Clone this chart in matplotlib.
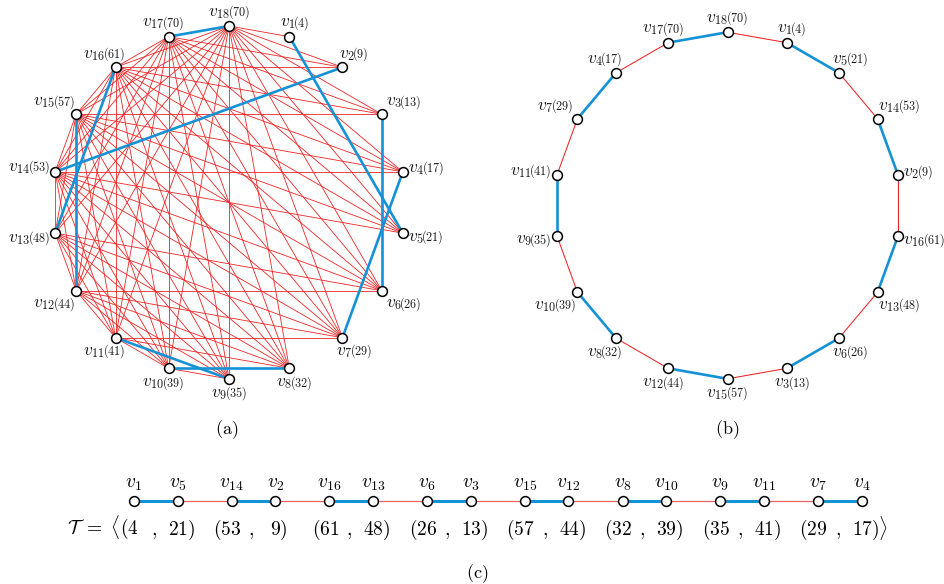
import numpy as np
import matplotlib
matplotlib.use("Agg")
import matplotlib.pyplot as plt
from matplotlib.collections import LineCollection
from matplotlib.offsetbox import TextArea, HPacker, AnnotationBbox

plt.rcParams["mathtext.fontset"] = "cm"
plt.rcParams["font.family"] = ["DejaVu Serif"]

# ---- graph data -------------------------------------------------------
weights = [4, 9, 13, 17, 21, 26, 29, 32, 35, 39, 41, 44, 48, 53, 57, 61, 70, 70]
# lowest-numbered neighbour of v1..v9 (they see every vertex from there up to v18)
first_neighbour = [18, 16, 15, 14, 14, 12, 11, 10, 10]
matching = [(1, 5), (14, 2), (16, 13), (6, 3), (15, 12), (8, 10), (9, 11), (7, 4), (17, 18)]
cycle = [18, 1, 5, 14, 2, 16, 13, 6, 3, 15, 12, 8, 10, 9, 11, 7, 4, 17]
path_pairs = [(1, 5), (14, 2), (16, 13), (6, 3), (15, 12), (8, 10), (9, 11), (7, 4)]
panel_titles = ["(a)", "(b)", "(c)"]

RED = "#ee2424"
RED_LIGHT = "#ef6262"
BLUE = "#1492d5"

W, H = 944, 584
fig = plt.figure(figsize=(W / 100, H / 100), dpi=100)
ax = fig.add_axes([0, 0, 1, 1])
ax.set_xlim(0, W)
ax.set_ylim(H, 0)
ax.axis("off")

n = len(weights)
labels = []


def polygon_positions(order, cx, cy, r):
    pos, ang = {}, {}
    for p, k in enumerate(order):
        th = 90 - 360.0 / len(order) * p
        t = np.deg2rad(th)
        pos[k] = (cx + r * np.cos(t), cy - r * np.sin(t))
        ang[k] = th
    return pos, ang


def vertex_label(x, y, k, theta, dist=3.0):
    v = TextArea(rf"$v_{{{k}}}$", textprops=dict(fontsize=12.5, color="#1a1a1a"))
    w = TextArea(rf"$({weights[k - 1]})$", textprops=dict(fontsize=8.8, color="#1a1a1a"))
    box = HPacker(children=[v, w], align="baseline", pad=0, sep=-1.6)
    t = np.deg2rad(theta)
    ab = AnnotationBbox(box, (x, y), xybox=(dist * np.cos(t), dist * np.sin(t)),
                        xycoords="data", boxcoords="offset pixels",
                        frameon=False, pad=0, box_alignment=(0.5, 0.5), zorder=6)
    ax.add_artist(ab)
    labels.append((ab, theta))


def draw_nodes(points):
    xs = [p[0] for p in points]
    ys = [p[1] for p in points]
    ax.scatter(xs, ys, s=50, facecolor="white", edgecolor="black", linewidth=1.1, zorder=5)


# ---- (a) the graph with its perfect matching --------------------------
pos_a, ang_a = polygon_positions([18] + list(range(1, 18)), 229, 202.5, 176.5)
red_edges = []
for i, lo in enumerate(first_neighbour, start=1):
    for j in range(lo, n + 1):
        red_edges.append((i, j))
high = list(range(len(first_neighbour) + 1, n + 1))
for a in high:
    for b in high:
        if a < b:
            red_edges.append((a, b))
ax.add_collection(LineCollection([[pos_a[a], pos_a[b]] for a, b in red_edges],
                                 colors=RED, linewidths=0.6, zorder=2))
ax.add_collection(LineCollection([[pos_a[a], pos_a[b]] for a, b in matching],
                                 colors=BLUE, linewidths=1.9, zorder=3))
draw_nodes([pos_a[k] for k in range(1, n + 1)])
for k in range(1, n + 1):
    vertex_label(*pos_a[k], k, ang_a[k])

# ---- (b) Hamiltonian cycle alternating matching / graph edges ---------
pos_b, ang_b = polygon_positions(cycle, 727.5, 205.5, 173.3)
mset = {frozenset(e) for e in matching}
for i in range(n):
    a, b = cycle[i], cycle[(i + 1) % n]
    blue = frozenset((a, b)) in mset
    ax.plot([pos_b[a][0], pos_b[b][0]], [pos_b[a][1], pos_b[b][1]],
            color=BLUE if blue else RED, lw=1.9 if blue else 0.75, zorder=3 if blue else 2)
draw_nodes([pos_b[k] for k in cycle])
for k in cycle:
    vertex_label(*pos_b[k], k, ang_b[k])

# ---- (c) the sequence of pairs ----------------------------------------
x0, yc, pair_step, inner = 134, 501, 97.7, 43.6
xs = {}
for p, (a, b) in enumerate(path_pairs):
    xs[a] = x0 + p * pair_step
    xs[b] = xs[a] + inner
order = [k for pr in path_pairs for k in pr]
ax.plot([xs[order[0]], xs[order[-1]]], [yc, yc], color=RED_LIGHT, lw=0.9, zorder=2)
for a, b in path_pairs:
    ax.plot([xs[a], xs[b]], [yc, yc], color=BLUE, lw=2.2, zorder=3)
draw_nodes([(xs[k], yc) for k in order])
FS = 14
digit = 0.5 * FS * 100 / 72
for k in order:
    ax.text(xs[k], 493, rf"$v_{{{k}}}$", ha="center", va="bottom", fontsize=FS)
ybase = 535
for p, (a, b) in enumerate(path_pairs):
    wa, wb = weights[a - 1], weights[b - 1]
    lead = r"\mathcal{T}\ =\ \langle(" if p == 0 else "("
    tail = r")\rangle" if p == len(path_pairs) - 1 else ")"
    # each number sits centred under its node; brackets hang off the outer sides
    ax.text(xs[a] + len(str(wa)) * digit / 2, ybase, rf"${lead}{wa}$",
            ha="right", va="baseline", fontsize=FS)
    ax.text(xs[b] - len(str(wb)) * digit / 2, ybase, rf"${wb}{tail}$",
            ha="left", va="baseline", fontsize=FS)
    ax.text((xs[a] + xs[b]) / 2 - 2, ybase, r"$,$", ha="center", va="baseline", fontsize=FS)

# ---- panel captions ---------------------------------------------------
for title, (tx, ty) in zip(panel_titles, [(227, 430), (727, 430), (477, 574)]):
    ax.text(tx, ty, rf"$\mathrm{{{title}}}$", ha="center", va="center", fontsize=13)

# ---- anchor labels like TikZ "label=angle:" ---------------------------
fig.canvas.draw()
renderer = fig.canvas.get_renderer()
PAD = 2.0
for ab, theta in labels:
    bb = ab.offsetbox.get_window_extent(renderer)
    w, h = bb.width, bb.height
    t = np.deg2rad(theta + 180)
    c, s = np.cos(t), np.sin(t)
    W2, H2 = w / 2 + PAD, h / 2 + PAD
    tx = W2 / abs(c) if abs(c) > 1e-9 else np.inf
    ty = H2 / abs(s) if abs(s) > 1e-9 else np.inf
    tt = min(tx, ty)
    align = ((w / 2 + tt * c) / w, (h / 2 + tt * s) / h)
    ab.box_alignment = align
    ab._box_alignment = align

fig.savefig("out.png", dpi=100)
